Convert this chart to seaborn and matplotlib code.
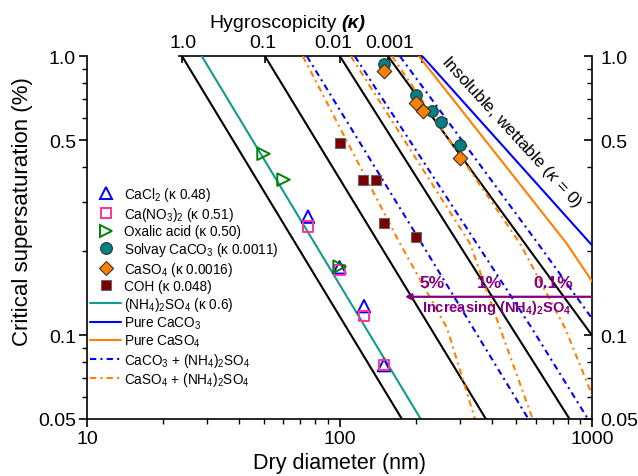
import matplotlib
matplotlib.use("Agg")
import matplotlib.pyplot as plt
import seaborn as sns
from matplotlib.lines import Line2D
from matplotlib.ticker import FixedLocator, FixedFormatter, NullFormatter, NullLocator

# ================= MEASURED POINTS (dry diameter nm, Sc %) =================
cacl2_d = [75, 100, 125, 150]
cacl2_s = [0.266, 0.175, 0.127, 0.078]

cano3_d = [75, 100, 125, 150]
cano3_s = [0.245, 0.171, 0.117, 0.078]

oxalic_d = [50, 60, 100]
oxalic_s = [0.447, 0.361, 0.176]

solvay_d = [150, 200, 233, 252, 300]
solvay_s = [0.939, 0.729, 0.639, 0.580, 0.479]

caso4_d = [150, 200, 214, 300]
caso4_s = [0.884, 0.681, 0.639, 0.433]

coh_d = [100, 124, 140, 150, 200]
coh_s = [0.488, 0.361, 0.361, 0.253, 0.225]

# ================= THEORY CURVES =================
kappa_labels = ["1.0", "0.1", "0.01", "0.001"]
kappa_d = [[23.8, 176.6], [50.7, 380], [100.4, 815], [155.6, 1000]]
kappa_s = [[1.0, 0.05], [1.0, 0.05], [1.0, 0.05], [1.0, 0.0998]]
kappa0_d = 213

as_d = [28.5, 209.7]
as_s = [1.0, 0.05]

caco3_d = [213, 1000]
caco3_s = [1.0, 0.21]

caso4_pure_d = [206.5, 794, 1000]
caso4_pure_s = [1.0, 0.213, 0.156]

mix_pct = ["5%", "1%", "0.1%"]
caco3_mix_d = [[74.3, 211.6, 560], [115, 349.5, 577, 964], [173.6, 611, 1000]]
caco3_mix_s = [[1.0, 0.213, 0.05], [1.0, 0.213, 0.106, 0.05], [1.0, 0.213, 0.1147]]
caso4_mix_d = [[71.6, 173.6, 266.6, 344], [111, 328.7, 432, 582], [161.5, 519, 782, 1000]]
caso4_mix_s = [[1.0, 0.213, 0.106, 0.05], [1.0, 0.213, 0.106, 0.05], [1.0, 0.213, 0.106, 0.0611]]

# ================= STYLE =================
sns.set_theme(style="ticks")
plt.rcParams['font.family'] = ['Liberation Sans', 'DejaVu Sans']
plt.rcParams['mathtext.fontset'] = 'custom'
plt.rcParams['mathtext.rm'] = 'Liberation Sans'
plt.rcParams['mathtext.it'] = 'Liberation Sans:italic'
plt.rcParams['mathtext.bf'] = 'Liberation Sans:bold'
for key in ['text.color', 'axes.labelcolor', 'axes.edgecolor', 'xtick.color', 'ytick.color']:
    plt.rcParams[key] = 'black'

BLUE = '#0000ff'
ORANGE = '#ff8000'
TEAL = '#119a8f'
PINK = '#ff3399'
GREEN = '#008000'
PURPLE = '#800080'
DASHDOT = (0, (3, 2, 1, 2))

fig = plt.figure(figsize=(6.38, 4.77), dpi=100)
ax = fig.add_axes([0.1364, 0.1195, 0.7915, 0.7604])
ax.set_xscale('log')
ax.set_yscale('log')

# ================= LINES =================
for d, s in zip(kappa_d, kappa_s):
    sns.lineplot(x=d, y=s, ax=ax, color='black', lw=1.5, sort=False, estimator=None)
sns.lineplot(x=as_d, y=as_s, ax=ax, color=TEAL, lw=1.5, sort=False, estimator=None)
sns.lineplot(x=caco3_d, y=caco3_s, ax=ax, color=BLUE, lw=1.5, sort=False, estimator=None)
sns.lineplot(x=caso4_pure_d, y=caso4_pure_s, ax=ax, color=ORANGE, lw=1.5, sort=False, estimator=None)
for d, s in zip(caco3_mix_d, caco3_mix_s):
    sns.lineplot(x=d, y=s, ax=ax, color=BLUE, lw=1.5, linestyle=DASHDOT, sort=False, estimator=None)
for d, s in zip(caso4_mix_d, caso4_mix_s):
    sns.lineplot(x=d, y=s, ax=ax, color=ORANGE, lw=1.5, linestyle=DASHDOT, sort=False, estimator=None)

# ================= POINTS =================
sns.scatterplot(x=cacl2_d, y=cacl2_s, ax=ax, marker='^', s=80, facecolor='none',
                edgecolor=BLUE, linewidth=1.4, zorder=4)
sns.scatterplot(x=cano3_d, y=cano3_s, ax=ax, marker='s', s=55, facecolor='none',
                edgecolor=PINK, linewidth=1.4, zorder=4)
sns.scatterplot(x=oxalic_d, y=oxalic_s, ax=ax, marker='>', s=80, facecolor='none',
                edgecolor=GREEN, linewidth=1.4, zorder=4)
sns.scatterplot(x=solvay_d, y=solvay_s, ax=ax, marker='o', s=70, color='#008080',
                edgecolor='#333333', linewidth=0.8, zorder=5)
sns.scatterplot(x=caso4_d, y=caso4_s, ax=ax, marker='D', s=55, color=ORANGE,
                edgecolor='#333333', linewidth=0.8, zorder=5)
sns.scatterplot(x=coh_d, y=coh_s, ax=ax, marker='s', s=60, color='#7a0000',
                edgecolor='#666666', linewidth=0.8, zorder=5)

# ================= AXES =================
ax.set_xlim(10, 1000)
ax.set_ylim(0.05, 1.0)
ax.spines['top'].set_visible(False)
ax.spines['right'].set_visible(False)
for sp in ['left', 'bottom']:
    ax.spines[sp].set_linewidth(1.2)

yt = [0.05, 0.1, 0.5, 1.0]
ytl = ['0.05', '0.1', '0.5', '1.0']
yminor = [0.06, 0.07, 0.08, 0.09, 0.2, 0.3, 0.4, 0.6, 0.7, 0.8, 0.9]
ax.yaxis.set_major_locator(FixedLocator(yt))
ax.yaxis.set_major_formatter(FixedFormatter(ytl))
ax.yaxis.set_minor_locator(FixedLocator(yminor))
ax.yaxis.set_minor_formatter(NullFormatter())
ax.set_xticks([10, 100, 1000])
ax.set_xticklabels(['10', '100', '1000'])
ax.xaxis.set_minor_formatter(NullFormatter())
ax.tick_params(which='major', direction='out', length=6, width=1.2, labelsize=14, pad=2)
ax.tick_params(which='minor', direction='out', length=3.5, width=1.0)

ax.set_xlabel('Dry diameter (nm)', fontsize=15.5)
ax.xaxis.set_label_coords(0.5, -0.09)
ax.set_ylabel('Critical supersaturation (%)', fontsize=16)
ax.yaxis.set_label_coords(-0.107, 0.576)

# right axis, ticks pointing in
rax = ax.secondary_yaxis('right')
rax.yaxis.set_major_locator(FixedLocator(yt))
rax.yaxis.set_major_formatter(FixedFormatter(ytl))
rax.yaxis.set_minor_locator(FixedLocator(yminor))
rax.yaxis.set_minor_formatter(NullFormatter())
rax.spines['right'].set_linewidth(1.2)
rax.tick_params(which='major', direction='in', length=6, width=1.2, labelsize=14, pad=6)
rax.tick_params(which='minor', direction='in', length=3.5, width=1.0)

# top hygroscopicity axis
tax = ax.secondary_xaxis('top')
tax.xaxis.set_major_locator(FixedLocator([d[0] for d in kappa_d] + [kappa0_d]))
tax.xaxis.set_major_formatter(NullFormatter())
tax.xaxis.set_minor_locator(NullLocator())
tax.spines['top'].set_bounds(23.2, kappa0_d)
tax.spines['top'].set_linewidth(1.2)
tax.tick_params(which='major', direction='in', length=5, width=1.2)
for lab, xp in zip(kappa_labels, [183, 263, 333, 390]):
    fig.text(xp / 638, 1 - 43 / 477, lab, ha='center', va='center', fontsize=14)

fig.text(337 / 638, 1 - 23 / 477, 'Hygroscopicity', ha='right', va='center', fontsize=14)
fig.text(341 / 638, 1 - 23 / 477, '(κ)', ha='left', va='center', fontsize=14,
         fontweight='bold', fontstyle='italic')

# ================= ANNOTATIONS =================
ax.text(478, 0.54, 'Insoluble, wettable ($\\mathit{κ}$ = 0)', rotation=-47.5,
        rotation_mode='anchor', ha='center', va='center', fontsize=12.5, zorder=6)

ax.annotate('', xy=(181.6, 0.1372), xytext=(1000, 0.1372),
            arrowprops=dict(arrowstyle='-|>', color=PURPLE, lw=1.6,
                            mutation_scale=9, shrinkA=0, shrinkB=0), zorder=6)
for lab, xd in zip(mix_pct, [231.7, 391.7, 703]):
    ax.text(xd, 0.154, lab, color=PURPLE, fontsize=12.5, fontweight='bold',
            ha='center', va='center', zorder=7)
ax.text(419.4, 0.1263, 'Increasing (NH$_\\mathbf{4}$)$_\\mathbf{2}$SO$_\\mathbf{4}$',
        color=PURPLE, fontsize=10.5, fontweight='bold', ha='center', va='center', zorder=7)

# ================= LEGEND =================
handles = [
    Line2D([], [], ls='none', marker='^', ms=9, mfc='none', mec=BLUE, mew=1.4),
    Line2D([], [], ls='none', marker='s', ms=7.5, mfc='none', mec=PINK, mew=1.4),
    Line2D([], [], ls='none', marker='>', ms=9, mfc='none', mec=GREEN, mew=1.4),
    Line2D([], [], ls='none', marker='o', ms=8.5, mfc='#008080', mec='#333333', mew=0.8),
    Line2D([], [], ls='none', marker='D', ms=7.5, mfc=ORANGE, mec='#333333', mew=0.8),
    Line2D([], [], ls='none', marker='s', ms=7.5, mfc='#7a0000', mec='#666666', mew=0.8),
    Line2D([], [], color=TEAL, lw=1.5),
    Line2D([], [], color=BLUE, lw=1.5),
    Line2D([], [], color=ORANGE, lw=1.5),
    Line2D([], [], color=BLUE, lw=1.5, ls=DASHDOT),
    Line2D([], [], color=ORANGE, lw=1.5, ls=DASHDOT),
]
labels = [
    'CaCl$_2$ (κ 0.48)',
    'Ca(NO$_3$)$_2$ (κ 0.51)',
    'Oxalic acid (κ 0.50)',
    'Solvay CaCO$_3$ (κ 0.0011)',
    'CaSO$_4$ (κ 0.0016)',
    'COH (κ 0.048)',
    '(NH$_4$)$_2$SO$_4$ (κ 0.6)',
    'Pure CaCO$_3$',
    'Pure CaSO$_4$',
    'CaCO$_3$ + (NH$_4$)$_2$SO$_4$',
    'CaSO$_4$ + (NH$_4$)$_2$SO$_4$',
]
ax.legend(handles, labels, loc='upper left', bbox_to_anchor=(0.006, 0.645),
          frameon=False, fontsize=9.8, handlelength=2.3, handletextpad=0.2,
          borderpad=0, borderaxespad=0, labelspacing=0.12)

plt.savefig('out.png', dpi=100)
